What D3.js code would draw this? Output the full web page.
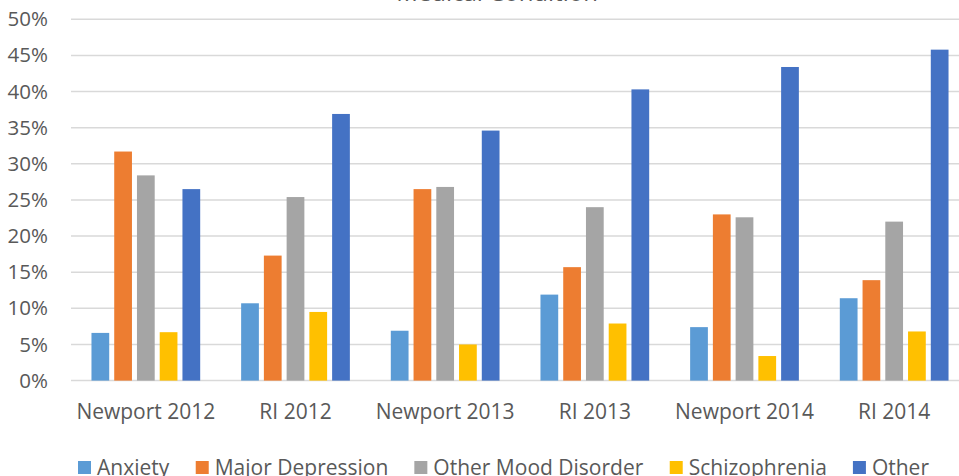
<!DOCTYPE html>
<html>
<head>
<meta charset="utf-8">
<script src="https://cdn.jsdelivr.net/npm/d3@7"></script>
<style>
  html, body { margin: 0; padding: 0; background: #fff; overflow: hidden; }
  svg { display: block; font-family: "Open Sans", "Noto Sans", sans-serif; }
</style>
</head>
<body>
<svg id="chart" width="959" height="476"></svg>
<script>
const categories = ["Newport 2012", "RI 2012", "Newport 2013", "RI 2013", "Newport 2014", "RI 2014"];
const seriesNames = ["Anxiety", "Major Depression", "Other Mood Disorder", "Schizophrenia", "Other"];
const anxiety = [6.6, 10.7, 6.9, 11.9, 7.4, 11.4];
const majorDepression = [31.7, 17.3, 26.5, 15.7, 23.0, 13.9];
const otherMood = [28.4, 25.4, 26.8, 24.0, 22.6, 22.0];
const schizophrenia = [6.7, 9.5, 5.0, 7.9, 3.4, 6.8];
const other = [26.5, 36.9, 34.6, 40.3, 43.4, 45.8];
const yTicks = [0, 5, 10, 15, 20, 25, 30, 35, 40, 45, 50];
const colors = ["#5B9BD5", "#ED7D31", "#A5A5A5", "#FFC000", "#4472C4"];
const titleText = "Medical Condition";

const seriesValues = [anxiety, majorDepression, otherMood, schizophrenia, other];
const data = categories.map((c, i) => ({
  cat: c,
  vals: seriesNames.map((s, j) => ({ key: s, value: seriesValues[j][i], color: colors[j] }))
}));

const svg = d3.select("#chart");
const mLeft = 71, mRight = 969, mTop = 19.3, mBottom = 380.6;

const x = d3.scaleBand().domain(categories).range([mLeft, mRight]).paddingInner(0).paddingOuter(0);
const xInner = d3.scaleBand().domain(seriesNames).range([0, x.bandwidth()]).paddingInner(0.22).paddingOuter(0.9);
const y = d3.scaleLinear().domain([0, 50]).range([mBottom, mTop]);

// title (clipped at top, as in the reference)
svg.append("text")
  .attr("x", 497).attr("y", 0.5)
  .attr("text-anchor", "middle")
  .attr("font-size", 24)
  .attr("fill", "#595959")
  .text(titleText);

// gridlines
svg.append("g")
  .selectAll("line")
  .data(yTicks)
  .join("line")
  .attr("x1", mLeft).attr("x2", mRight)
  .attr("y1", d => y(d)).attr("y2", d => y(d))
  .attr("stroke", "#d9d9d9")
  .attr("stroke-width", 1.5);

// y axis labels
const yAxis = d3.axisLeft(y).tickValues(yTicks).tickFormat(d => d + "%").tickSize(0).tickPadding(0);
const yg = svg.append("g").attr("transform", "translate(48,0)").call(yAxis);
yg.select(".domain").remove();
yg.selectAll("text").attr("font-size", 20.5).attr("fill", "#595959")
  .attr("font-family", "'Open Sans', sans-serif");

// bars
const groups = svg.append("g").selectAll("g")
  .data(data)
  .join("g")
  .attr("transform", d => `translate(${x(d.cat)},0)`);
groups.selectAll("rect")
  .data(d => d.vals)
  .join("rect")
  .attr("x", d => xInner(d.key))
  .attr("width", xInner.bandwidth())
  .attr("y", d => y(d.value))
  .attr("height", d => y(0) - y(d.value))
  .attr("fill", d => d.color);

// x axis labels
const xAxis = d3.axisBottom(x).tickSize(0).tickPadding(0);
const xg = svg.append("g").attr("transform", `translate(0,${mBottom + 23})`).call(xAxis);
xg.select(".domain").remove();
xg.selectAll("text").attr("font-size", 21).attr("fill", "#595959")
  .attr("font-family", "'Open Sans', sans-serif");

// legend
const legend = svg.append("g");
const items = legend.selectAll("g").data(seriesNames).join("g");
items.append("rect").attr("width", 13).attr("height", 13).attr("y", 461)
  .attr("fill", (d, i) => colors[i]);
items.append("text").attr("x", 19).attr("y", 474.5).attr("font-size", 21)
  .attr("fill", "#595959").text(d => d);
const widths = [];
items.each(function() { widths.push(this.getBBox().width); });
const spacing = 26;
let start = 78;
items.attr("transform", (d, i) => {
  const t = `translate(${start},0)`;
  start += widths[i] + spacing;
  return t;
});
</script>
</body>
</html>
